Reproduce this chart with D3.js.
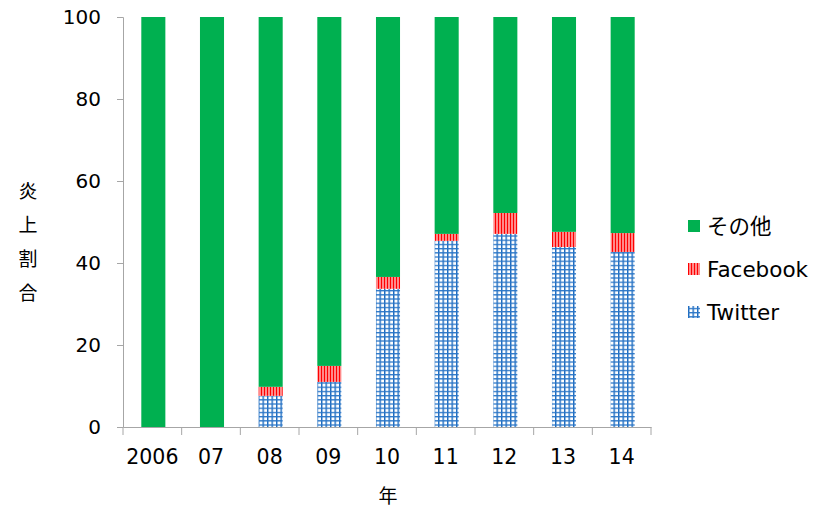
<!DOCTYPE html>
<html>
<head>
<meta charset="utf-8">
<script src="https://cdn.jsdelivr.net/npm/d3@7"></script>
<style>
  body { margin: 0; background: #fff; }
  svg { display: block; }
  .tick text { font-family: "DejaVu Sans", sans-serif; }
</style>
</head>
<body>
<svg id="chart" width="815" height="509"></svg>
<script>
const years = ['2006', '07', '08', '09', '10', '11', '12', '13', '14'];
const twitter = [0, 0, 7.6, 11.0, 33.7, 45.4, 47.1, 43.9, 42.7];
const facebook = [0, 0, 2.2, 3.9, 2.9, 1.7, 5.1, 3.7, 4.6];
const other = [100, 100, 90.2, 85.1, 63.4, 52.9, 47.8, 52.4, 52.7];
const seriesNames = ['Twitter', 'Facebook', 'その他'];
const yTicks = [0, 20, 40, 60, 80, 100];

const margin = { top: 17, left: 123, right: 164, bottom: 82 };
const width = 815 - margin.left - margin.right;
const height = 509 - margin.top - margin.bottom;

const data = years.map((y, i) => ({ year: y, Twitter: twitter[i], Facebook: facebook[i], 'その他': other[i] }));
const stacked = d3.stack().keys(seriesNames)(data);

const svg = d3.select('#chart');

// 塗りパターン
const defs = svg.append('defs');
const tw = defs.append('pattern').attr('id', 'pat-tw')
  .attr('patternUnits', 'userSpaceOnUse').attr('width', 4.5).attr('height', 4.2);
tw.append('rect').attr('width', 4.5).attr('height', 4.2).attr('fill', '#fff');
tw.append('rect').attr('x', 0).attr('y', 0).attr('width', 1.4).attr('height', 4.2).attr('fill', '#1a68bd');
tw.append('rect').attr('x', 0).attr('y', 0).attr('width', 4.5).attr('height', 1.3).attr('fill', '#2a76c8');

const fb = defs.append('pattern').attr('id', 'pat-fb')
  .attr('patternUnits', 'userSpaceOnUse').attr('width', 3).attr('height', 3);
fb.append('rect').attr('width', 3).attr('height', 3).attr('fill', '#ff8a8a');
fb.append('rect').attr('x', 0).attr('width', 1).attr('height', 3).attr('fill', '#ff0000');

const fills = { 'Twitter': 'url(#pat-tw)', 'Facebook': 'url(#pat-fb)', 'その他': '#00b050' };

const g = svg.append('g').attr('transform', `translate(${margin.left},${margin.top})`);

const x = d3.scaleBand().domain(years).range([0, width]).paddingInner(0.59).paddingOuter(0.295);
const xAxisScale = d3.scaleBand().domain(years).range([0, width]).padding(0);
const y = d3.scaleLinear().domain([0, 100]).range([height, 0]);

// バー
g.selectAll('g.layer')
  .data(stacked)
  .enter()
  .append('g')
  .attr('class', 'layer')
  .attr('fill', d => fills[d.key])
  .selectAll('rect')
  .data(d => d)
  .enter()
  .append('rect')
  .attr('x', d => x(d.data.year) + 1)
  .attr('width', x.bandwidth())
  .attr('y', d => y(d[1]))
  .attr('height', d => y(d[0]) - y(d[1]));

const axisColor = '#a6a6a6';

// Y軸
const yAxis = d3.axisLeft(y).tickValues(yTicks).tickSize(6).tickPadding(16);
const yg = g.append('g').call(yAxis);
yg.select('.domain').attr('stroke', axisColor);
yg.selectAll('.tick line').attr('stroke', axisColor);
yg.selectAll('.tick text').attr('font-size', 20).attr('fill', '#000');

// X軸
const xg = g.append('g').attr('transform', `translate(0,${height})`)
  .call(d3.axisBottom(xAxisScale).tickSize(0).tickPadding(22));
xg.select('.domain').attr('stroke', axisColor);
xg.selectAll('.tick text').attr('font-size', 20.5).attr('fill', '#000');
const bounds = years.map(d => xAxisScale(d)).concat([width]);
xg.selectAll('line.bt')
  .data(bounds)
  .enter()
  .append('line')
  .attr('class', 'bt')
  .attr('x1', d => d).attr('x2', d => d)
  .attr('y1', 0).attr('y2', 8)
  .attr('stroke', axisColor);

// 軸タイトル
const cjk = '"Noto Sans CJK JP", sans-serif';
svg.append('text')
  .attr('x', 388).attr('y', 503)
  .attr('text-anchor', 'middle')
  .attr('font-family', cjk).attr('font-size', 19)
  .text('年');

const yTitle = svg.append('text')
  .attr('font-family', cjk).attr('font-size', 19)
  .attr('text-anchor', 'middle');
'炎上割合'.split('').forEach((c, i) => {
  yTitle.append('tspan').attr('x', 28).attr('y', 198 + i * 34).text(c);
});

// 凡例
const legendItems = ['その他', 'Facebook', 'Twitter'];
const legend = svg.append('g').attr('transform', 'translate(688,226)');
legendItems.forEach((name, i) => {
  const row = legend.append('g').attr('transform', `translate(0,${i * 43})`);
  row.append('rect').attr('x', 0).attr('y', -6).attr('width', 12).attr('height', 12).attr('fill', fills[name]);
  row.append('text').attr('x', 19).attr('y', 0).attr('dy', '0.36em')
    .attr('font-family', name === 'その他' ? cjk : '"DejaVu Sans", sans-serif')
    .attr('font-size', 21.5)
    .text(name);
});
</script>
</body>
</html>
